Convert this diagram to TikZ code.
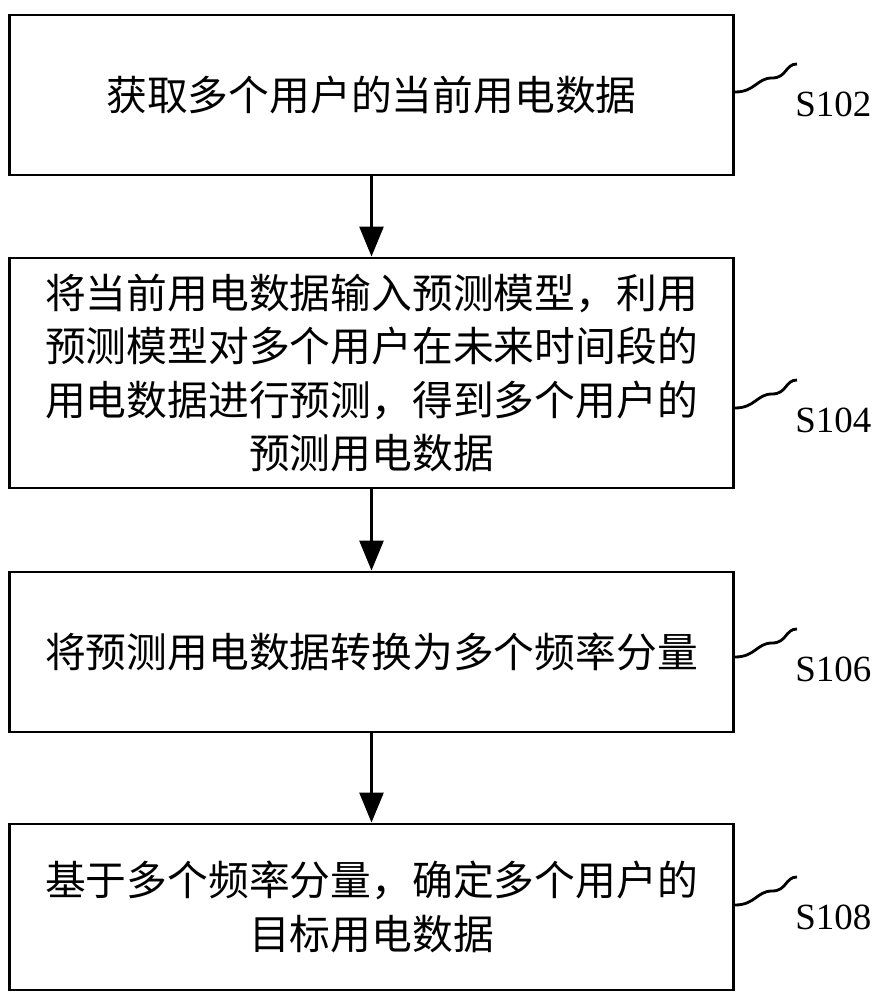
\documentclass[tikz,border=0pt]{standalone}
\usepackage{fontspec}
\setmainfont{Liberation Serif}
\newfontfamily\cjk{Noto Sans CJK SC}
\usetikzlibrary{positioning,calc}
\usetikzlibrary{arrows.meta}

\tikzset{
  stepbox/.style={draw=black, thick, minimum width=7.23cm, align=center,
    font=\cjk\fontsize{11.6}{15.2}\selectfont, inner sep=0pt},
  flowarrow/.style={-{Triangle[length=3mm,width=2.4mm]}, thick},
  steplabel/.style={font=\fontsize{10.5}{12}\selectfont, anchor=west},
  wave/.style={thick}
}

\begin{document}
\begin{tikzpicture}[x=0.01cm, y=-0.01cm]
    \useasboundingbox (0,0) rectangle (876,1000);

    \node[stepbox, minimum height=1.6cm] (s102) at (371.5,95) {获取多个用户的当前用电数据};
    \node[stepbox, minimum height=2.3cm] (s104) at (371.5,373)
      {将当前用电数据输入预测模型，利用\\预测模型对多个用户在未来时间段的\\用电数据进行预测，得到多个用户的\\预测用电数据};
    \node[stepbox, minimum height=1.6cm] (s106) at (371.5,652) {将预测用电数据转换为多个频率分量};
    \node[stepbox, minimum height=1.66cm] (s108) at (371.5,907) {基于多个频率分量，确定多个用户的\\目标用电数据};

    \draw[flowarrow] (s102.south) -- (s104.north);
    \draw[flowarrow] (s104.south) -- (s106.north);
    \draw[flowarrow] (s106.south) -- (s108.north);

    % step labels with waves
    \coordinate (w102) at (735,92);
    \coordinate (w104) at (735,408);
    \coordinate (w106) at (735,657);
    \coordinate (w108) at (735,905);
    \foreach \n in {102,104,106,108}{
      \draw[wave] (w\n) .. controls ($(w\n)+(20,0)$) and ($(w\n)+(22,-14)$) .. ($(w\n)+(37,-14)$)
                        .. controls ($(w\n)+(52,-14)$) and ($(w\n)+(50,-28)$) .. ($(w\n)+(62,-28)$);
      \node[steplabel] (l\n) at ($(w\n)+(48,12)$) {S\n};
    }
\end{tikzpicture}
\end{document}
